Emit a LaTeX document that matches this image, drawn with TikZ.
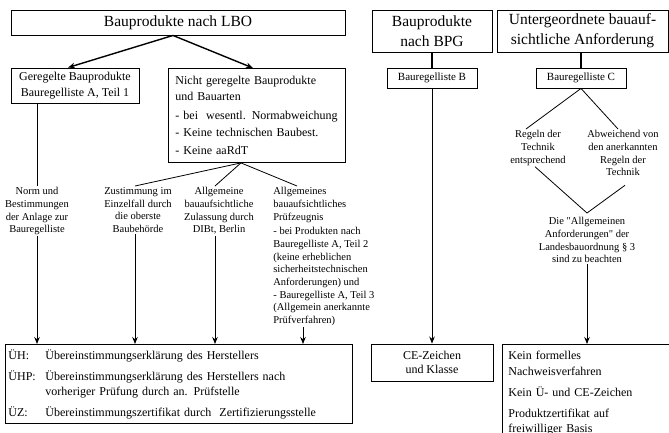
\documentclass[tikz,border=0pt]{standalone}
\usepackage{fontspec}
\setmainfont{Liberation Serif}
\usetikzlibrary{arrows.meta}

\newcommand{\kurz}[1]{\makebox[37pt][l]{#1}}

\begin{document}
\begin{tikzpicture}[
    x = 1pt,
    y = -1pt,
    line width = 0.8pt,
    >={Stealth[length=7pt,width=5.5pt]},
    box/.style = {
      draw,
      line width = 0.9pt,
      inner sep = 0pt
    },
    gross/.style = {font=\fontsize{15.5}{20}\selectfont},
    mittel/.style = {font=\fontsize{12}{15.5}\selectfont},
    klein/.style = {font=\fontsize{10.5}{12.7}\selectfont, inner sep=1pt},
    dick/.style = {line width = 2pt}
  ]
  \useasboundingbox (0,0) rectangle (669,433);

  % obere Kaesten
  \node[box, gross, minimum width=334pt, minimum height=25pt] (lbo) at (178,22.5) {Bauprodukte nach LBO};
  \node[box, gross, minimum width=120pt, minimum height=42pt, align=center] (bpg) at (432,31) {Bauprodukte\\nach BPG};
  \node[box, gross, minimum width=171pt, minimum height=42pt, align=center] (unterg) at (582.5,31) {Untergeordnete bauauf-\\sichtliche Anforderung};

  \node[box, font=\fontsize{11}{13}\selectfont, minimum width=90pt, minimum height=20pt] (listeB) at (432,78) {Bauregelliste B};
  \node[box, font=\fontsize{11}{13}\selectfont, minimum width=90pt, minimum height=20pt] (listeC) at (581,78) {Bauregelliste C};

  \node[box, mittel, minimum width=128pt, minimum height=35pt, align=center] (geregelt) at (75,85.5) {Geregelte Bauprodukte\\Bauregelliste A, Teil 1};
  \node[box, mittel, anchor=north west, minimum width=177pt, minimum height=94pt, text width=163pt, inner xsep=7pt, align=left] (nicht) at (168,68) {Nicht geregelte Bauprodukte\\und Bauarten\\[4pt]- bei\ \ wesentl. Normabweichung\\[1.5pt]- Keine technischen Baubest.\\[2pt]- Keine aaRdT};

  % Verfahren
  \node[klein, anchor=north, align=center] (norm) at (37,186) {Norm und\\Bestimmungen\\der Anlage zur\\Bauregelliste};
  \node[klein, anchor=north, align=center] (zust) at (138,186) {Zustimmung im\\Einzelfall durch\\die oberste\\Baubehörde};
  \node[klein, anchor=north, align=center] (allg) at (219,186) {Allgemeine\\bauaufsichtliche\\Zulassung durch\\DIBt, Berlin};
  \node[klein, anchor=north west, align=left] (pruef) at (272,186) {Allgemeines\\bauaufsichtliches\\Prüfzeugnis\\[2pt]- bei Produkten nach\\Bauregelliste A, Teil 2\\(keine erheblichen\\sicherheitstechnischen\\Anforderungen) und\\- Bauregelliste A, Teil 3\\(Allgemein anerkannte\\Prüfverfahren)};

  \node[klein, anchor=north, align=center] (regeln) at (538,129) {Regeln der\\Technik\\entsprechend};
  \node[klein, anchor=north, align=center] (abw) at (623,129) {Abweichend von\\den anerkannten\\Regeln der\\Technik};
  \node[klein, anchor=north, align=center] (anf) at (587,216) {Die \textquotedbl Allgemeinen\\Anforderungen\textquotedbl{} der\\Landesbauordnung § 3\\sind zu beachten};

  % untere Kaesten
  \node[box, mittel, anchor=north west, minimum width=347pt, minimum height=79pt, text width=341pt, inner xsep=3pt, align=left] (uebl) at (5,344) {\kurz{ÜH:}Übereinstimmungserklärung des Herstellers\\[5.5pt]\kurz{ÜHP:}Übereinstimmungserklärung des Herstellers nach\\\kurz{}vorheriger Prüfung durch an. Prüfstelle\\[5pt]\kurz{ÜZ:}Übereinstimmungszertifikat durch\ \ Zertifizierungsstelle};
  \node[box, font=\fontsize{12}{14.5}\selectfont, minimum width=122pt, minimum height=37pt, align=center] (ce) at (432,362.5) {CE-Zeichen\\und Klasse};
  \node[box, mittel, anchor=north west, text width=170pt, inner xsep=6pt, inner ysep=7pt, align=left] (nachweis) at (502,344) {Kein formelles\\Nachweisverfahren\\[5.5pt]Kein Ü- und CE-Zeichen\\[5.5pt]Produktzertifikat auf\\freiwilliger Basis};

  % Verbindungen
  \draw[->, line width=1.4pt] ([xshift=-5pt]lbo.south) -- ([xshift=-7pt]geregelt.north);
  \draw[->, line width=1.4pt] ([xshift=-5pt]lbo.south) -- ([xshift=-4pt]nicht.north);
  \draw[dick] (bpg) -- (listeB);
  \draw[dick] (listeC.north) -- (listeC.north |- unterg.south);

  \draw (geregelt.south -| norm.north) -- (norm.north);
  \coordinate (nichtfuss) at ([xshift=-16pt]nicht.south);
  \draw (nichtfuss) -- ([xshift=-3pt]zust.north);
  \draw (nichtfuss) -- ([xshift=-4pt]allg.north);
  \draw (nichtfuss) -- ([xshift=25pt]pruef.north west);

  \draw[->] (norm.south) -- (norm.south |- uebl.north);
  \draw[->] ([xshift=-3pt]zust.south) -- ([xshift=-3pt]zust.south |- uebl.north);
  \draw[->] ([xshift=-4pt]allg.south) -- ([xshift=-4pt]allg.south |- uebl.north);
  \draw[->] ([xshift=31pt]pruef.south west) -- ([xshift=31pt]pruef.south west |- uebl.north);
  \draw[->] (listeB) -- (ce);

  \draw (listeC.south) -- ([xshift=-12pt]regeln.north);
  \draw (listeC.south) -- ([xshift=-5pt]abw.north);
  \draw ([xshift=-3pt]regeln.south) -- ([yshift=3pt]anf.north);
  \draw ([xshift=2pt,yshift=-8pt]abw.south) -- ([yshift=3pt]anf.north);
  \draw[->] (anf.south) -- (anf.south |- nachweis.north);
\end{tikzpicture}
\end{document}
